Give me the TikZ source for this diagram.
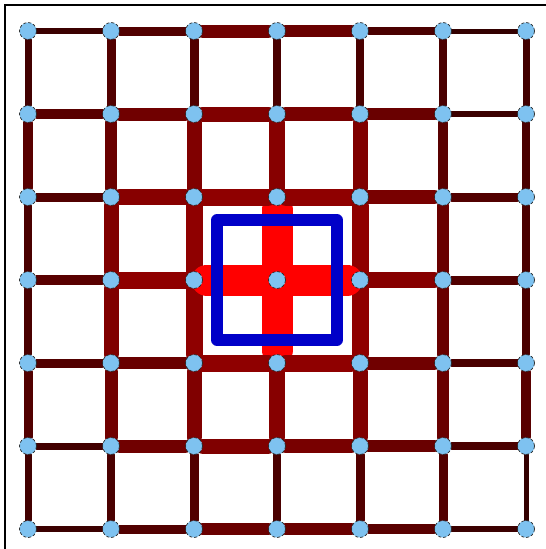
\documentclass[tikz,border=0pt]{standalone}
\usetikzlibrary{backgrounds}
\definecolor{dotblue}{RGB}{126,194,240}
\definecolor{winblue}{RGB}{0,0,200}
\tikzset{
  dot/.style={circle, minimum size=17pt, inner sep=0pt, fill=dotblue, draw=black!85, densely dashed, line width=0.7pt},
  link/.style={line cap=round, line width=#1pt},
  window/.style={draw=winblue, line width=11.5pt, line join=round, minimum size=120pt, inner sep=0pt},
  frame/.style={draw=black, line width=2pt}
}

\begin{document}
\begin{tikzpicture}[x=1pt, y=-1pt]
  \useasboundingbox (0,0) rectangle (546,549);
  % grid points
  \foreach \c in {0,...,6}
    \foreach \r in {0,...,6}
      \node[dot] (n-\c-\r) at (28+83*\c, 31+83*\r) {};
  \begin{scope}[on background layer]
    \draw[frame] (5,560) -- (5,5) -- (560,5);
    % vertical links: column/row/width
    \foreach \c/\r/\w [evaluate=\r as \rr using int(\r+1), evaluate=\w as \p using int(\w>20 ? 100 : 3*\w+5), evaluate=\w as \s using (\w>20 ? 4 : 0)] in {
        0/0/7, 0/1/10, 0/2/8, 0/3/8, 0/4/9, 0/5/7,
        1/0/9, 1/1/12, 1/2/15, 1/3/15, 1/4/13, 1/5/8,
        2/0/9, 2/1/15, 2/2/17, 2/3/17, 2/4/15, 2/5/9,
        3/0/8, 3/1/16, 3/2/31, 3/3/31, 3/4/16, 3/5/8,
        4/0/8, 4/1/15, 4/2/17, 4/3/17, 4/4/15, 4/5/9,
        5/0/8, 5/1/10, 5/2/12, 5/3/12, 5/4/12, 5/5/9,
        6/0/7, 6/1/8, 6/2/8, 6/3/8, 6/4/10, 6/5/5}
      \draw[link=\w, color=red!\p!black, shorten <=\s pt, shorten >=\s pt] (n-\c-\r) -- (n-\c-\rr);
    % horizontal links: column/row/width
    \foreach \c/\r/\w [evaluate=\c as \cc using int(\c+1), evaluate=\w as \p using int(\w>20 ? 100 : 3*\w+5), evaluate=\w as \s using (\w>20 ? 4 : 0)] in {
        0/0/6, 1/0/9, 2/0/13, 3/0/12, 4/0/8, 5/0/5,
        0/1/10, 1/1/13, 2/1/15, 3/1/14, 4/1/12, 5/1/6,
        0/2/9, 1/2/16, 2/2/17, 3/2/17, 4/2/14, 5/2/9,
        0/3/10, 1/3/17, 2/3/31, 3/3/31, 4/3/16, 5/3/9,
        0/4/9, 1/4/12, 2/4/17, 3/4/17, 4/4/13, 5/4/8,
        0/5/7, 1/5/13, 2/5/15, 3/5/14, 4/5/12, 5/5/8,
        0/6/6, 1/6/9, 2/6/12, 3/6/12, 4/6/10, 5/6/6}
      \draw[link=\w, color=red!\p!black, shorten <=\s pt, shorten >=\s pt] (n-\c-\r) -- (n-\cc-\r);
  \end{scope}
  \node[window] (win) at (n-3-3) {};
\end{tikzpicture}
\end{document}
